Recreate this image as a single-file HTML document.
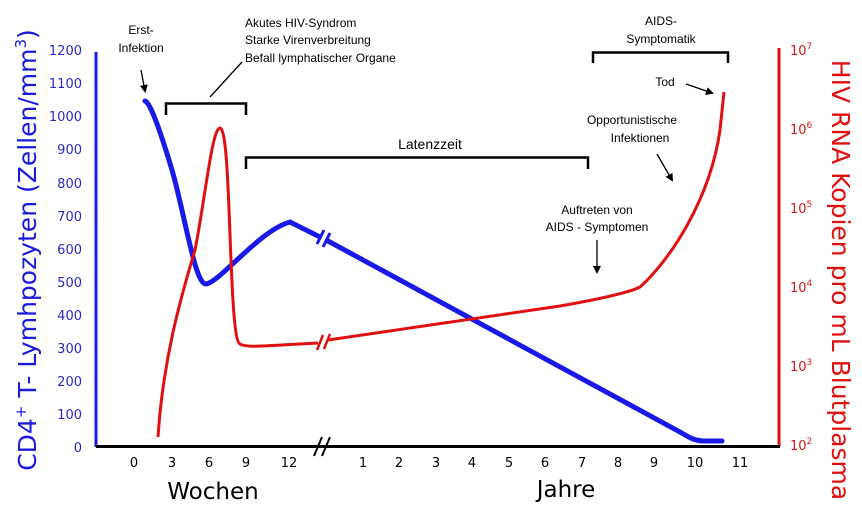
<!DOCTYPE html>
<html><head><meta charset="utf-8"><style>body{margin:0;background:#fff}svg{display:block}</style></head><body>
<svg width="862" height="512" viewBox="0 0 862 512" xmlns="http://www.w3.org/2000/svg" font-family="DejaVu Sans, Liberation Sans, sans-serif">
<defs><marker id="ar" markerWidth="8" markerHeight="8" refX="6" refY="4" orient="auto" markerUnits="userSpaceOnUse"><path d="M0,0 L8,4 L0,8 Z" fill="#000"/></marker></defs>
<line x1="96" y1="52" x2="96" y2="447" stroke="#1a1adc" stroke-width="3"/>
<line x1="779" y1="48" x2="779" y2="447" stroke="#e01010" stroke-width="3"/>
<line x1="96" y1="446.5" x2="780" y2="446.5" stroke="#000" stroke-width="3"/>
<g stroke="#000" stroke-width="2"><line x1="314" y1="456" x2="322" y2="437"/><line x1="322" y1="456" x2="330" y2="437"/></g>
<g fill="#2a2ac0" font-size="13" text-anchor="end">
<text x="82" y="55">1200</text><text x="82" y="88">1100</text><text x="82" y="121">1000</text><text x="82" y="154">900</text><text x="82" y="188">800</text><text x="82" y="221">700</text><text x="82" y="254">600</text><text x="82" y="287">500</text><text x="82" y="320">400</text><text x="82" y="353">300</text><text x="82" y="386">200</text><text x="82" y="419">100</text><text x="82" y="452">0</text>
</g>
<g fill="#d01818" font-size="13">
<text x="790" y="55">10<tspan font-size="9" dy="-6">7</tspan></text>
<text x="790" y="134">10<tspan font-size="9" dy="-6">6</tspan></text>
<text x="790" y="213">10<tspan font-size="9" dy="-6">5</tspan></text>
<text x="790" y="292">10<tspan font-size="9" dy="-6">4</tspan></text>
<text x="790" y="371">10<tspan font-size="9" dy="-6">3</tspan></text>
<text x="790" y="450">10<tspan font-size="9" dy="-6">2</tspan></text>
</g>
<g fill="#000" font-size="13" text-anchor="middle">
<text x="134" y="467">0</text><text x="172" y="467">3</text><text x="209" y="467">6</text><text x="246" y="467">9</text><text x="289" y="467">12</text>
<text x="363" y="467">1</text><text x="399" y="467">2</text><text x="436" y="467">3</text><text x="472" y="467">4</text><text x="509" y="467">5</text><text x="545" y="467">6</text><text x="582" y="467">7</text><text x="618" y="467">8</text><text x="654" y="467">9</text><text x="695" y="467">10</text><text x="740" y="467">11</text>
</g>
<text x="213" y="499" font-size="23" text-anchor="middle" fill="#000">Wochen</text>
<text x="566" y="497" font-size="23" text-anchor="middle" fill="#000">Jahre</text>
<text transform="translate(36,250) rotate(-90)" font-size="25" fill="#1a1adc" text-anchor="middle">CD4<tspan font-size="15" dy="-10">+</tspan><tspan dy="10"> T- Lymhpozyten (Zellen/mm</tspan><tspan font-size="15" dy="-10">3</tspan><tspan dy="10">)</tspan></text>
<text transform="translate(832,280) rotate(90)" font-size="25" fill="#e01010" text-anchor="middle">HIV RNA Kopien pro mL Blutplasma</text>
<path d="M145,101 C150,102 160,130 172,170 C185,215 195,285 206,284 C220,282 260,230 290,222 L318,236" fill="none" stroke="#1a1ae8" stroke-width="5" stroke-linecap="round"/>
<path d="M328,241 L680,432 C690,438 695,441 705,441 L722,441" fill="none" stroke="#1a1ae8" stroke-width="5" stroke-linecap="round"/>
<g stroke="#1a1ae8" stroke-width="3"><line x1="317" y1="244" x2="324" y2="230"/><line x1="323" y1="247" x2="330" y2="233"/></g>
<path d="M158,437 C163,360 180,300 195,250 C205,200 212,128 220,128 C232,128 228,340 240,344 C247,348 260,346 318,343" fill="none" stroke="#e01010" stroke-width="3"/>
<path d="M328,340 L560,306 C600,299 630,292 640,287 C670,260 710,200 720,130 L724,92" fill="none" stroke="#e01010" stroke-width="3"/>
<g stroke="#e01010" stroke-width="2.5"><line x1="317" y1="350" x2="323" y2="335"/><line x1="324" y1="349" x2="330" y2="334"/></g>
<g stroke="#000" stroke-width="2.5" fill="none">
<path d="M166,115 V103.5 H246 V115"/>
<path d="M246,169 V157.5 H588 V169"/>
<path d="M593,63 V52.5 H728 V63"/>
</g>
<g stroke="#000" stroke-width="1.3" fill="none">
<line x1="210" y1="97" x2="242" y2="62"/>
<line x1="141" y1="70" x2="145" y2="91" marker-end="url(#ar)"/>
<line x1="686" y1="84" x2="712" y2="93" marker-end="url(#ar)"/>
<line x1="657" y1="154" x2="672" y2="180" marker-end="url(#ar)"/>
<line x1="597" y1="240" x2="597" y2="272" marker-end="url(#ar)"/>
</g>
<g fill="#000" font-size="12" text-anchor="middle" font-family="Liberation Sans, sans-serif">
<text x="141" y="34">Erst-</text><text x="141" y="52">Infektion</text>
<text x="430" y="149" font-size="14">Latenzzeit</text>
<text x="661" y="25">AIDS-</text><text x="661" y="43">Symptomatik</text>
<text x="665" y="86">Tod</text>
<text x="632" y="124">Opportunistische</text><text x="640" y="142">Infektionen</text>
<text x="597" y="214">Auftreten von</text><text x="597" y="231">AIDS - Symptomen</text>
</g>
<g fill="#000" font-size="12" font-family="Liberation Sans, sans-serif">
<text x="245" y="27">Akutes HIV-Syndrom</text><text x="245" y="44">Starke Virenverbreitung</text><text x="245" y="62">Befall lymphatischer Organe</text>
</g>
</svg>
</body></html>
